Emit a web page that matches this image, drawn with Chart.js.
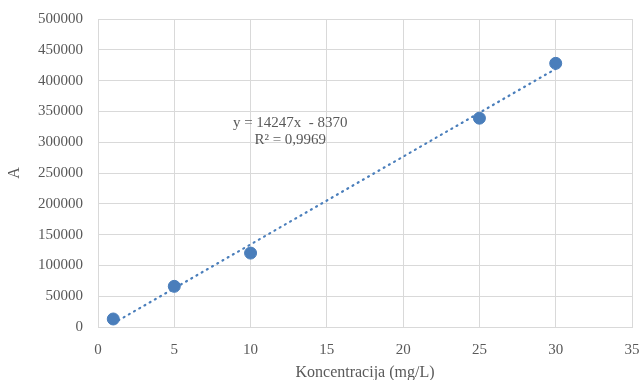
<!DOCTYPE html>
<html lang="en">
<head>
  <meta charset="UTF-8">
  <title>Kalibracijska krivulja</title>
  <script src="https://cdn.jsdelivr.net/npm/chart.js"></script>
  <style>
    html, body { margin: 0; padding: 0; background: #fff; overflow: hidden; }
    canvas { display: block; }
  </style>
</head>
<body>
<canvas id="calChart" width="642" height="380"></canvas>
<script>
const concentrations = [1, 5, 10, 25, 30];
const areas = [13000, 66000, 120000, 339000, 428000];
// trendline end points (x = 1 and x = 30)
const trendX = [1, 30];
const trendY = [5877, 419040];
const equationLines = ["y = 14247x  - 8370", "R² = 0,9969"];
const labelPos = { x: 12.6, y: 331000 };

const serif = "'Liberation Serif', 'Times New Roman', serif";
const blue = "#4a7ebb";

const equationText = {
  id: "equationText",
  afterDatasetsDraw(chart) {
    const { ctx, scales } = chart;
    const px = scales.x.getPixelForValue(labelPos.x);
    const py = scales.y.getPixelForValue(labelPos.y);
    ctx.save();
    ctx.font = "15px " + serif;
    ctx.fillStyle = "#595959";
    ctx.textAlign = "center";
    ctx.textBaseline = "middle";
    equationLines.forEach((t, i) => ctx.fillText(t, px, py + i * 17));
    ctx.restore();
  }
};

new Chart(document.getElementById("calChart"), {
  type: "scatter",
  data: {
    datasets: [
      {
        label: "A",
        data: concentrations.map((x, i) => ({ x: x, y: areas[i] })),
        backgroundColor: blue,
        borderColor: blue,
        pointRadius: 6,
        pointHoverRadius: 6
      },
      {
        label: "Linear",
        data: trendX.map((x, i) => ({ x: x, y: trendY[i] })),
        showLine: true,
        borderColor: blue,
        borderWidth: 2.2,
        borderDash: [1, 5],
        borderCapStyle: "round",
        pointRadius: 0
      }
    ]
  },
  options: {
    responsive: false,
    animation: false,
    layout: { padding: 0 },
    plugins: {
      legend: { display: false },
      tooltip: { enabled: false }
    },
    scales: {
      x: {
        min: 0, max: 35,
        ticks: { stepSize: 5, color: "#595959", font: { family: serif, size: 15 }, padding: 14 },
        grid: { color: "#d9d9d9", drawTicks: false },
        border: { color: "#d9d9d9" },
        title: { display: true, text: "Koncentracija (mg/L)", color: "#595959", font: { family: serif, size: 16 }, padding: { top: 0, bottom: -2 } },
        afterFit: s => { s.height = 53; s.paddingRight = 10; }
      },
      y: {
        min: 0, max: 500000,
        ticks: {
          stepSize: 50000, color: "#595959", font: { family: serif, size: 15 }, padding: 15,
          callback: v => String(v)
        },
        grid: { color: "#d9d9d9", drawTicks: false },
        border: { display: false },
        title: { display: true, text: "A", color: "#595959", font: { family: serif, size: 16 }, padding: { top: 5, bottom: 0 } },
        afterFit: s => { s.width = 98; s.paddingTop = 19; }
      }
    }
  },
  plugins: [equationText]
});
</script>
</body>
</html>
